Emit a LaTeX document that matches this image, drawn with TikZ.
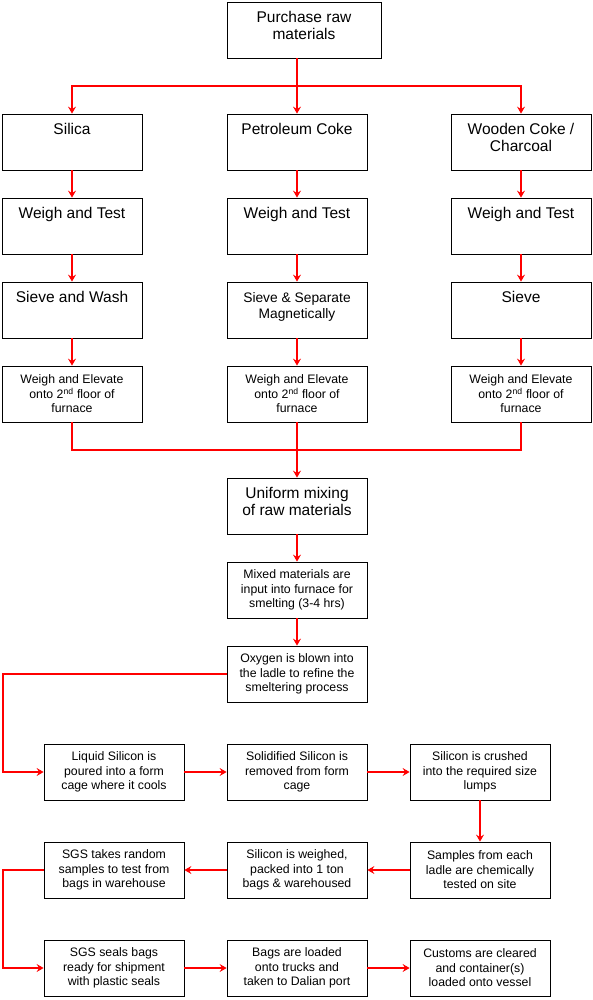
\documentclass[tikz,border=0pt]{standalone}
\usepackage{fontspec}
\setmainfont{Liberation Sans}
\usetikzlibrary{arrows.meta,positioning}

\begin{document}
\begin{tikzpicture}[x=1pt,y=1pt,>={Stealth[length=7pt,width=8pt,inset=2.5pt]},node distance=84pt]
        \tikzstyle{box}=[draw=black,line width=0.8pt,minimum width=140pt,minimum height=56pt,inner sep=0pt,align=center]
        \tikzstyle{bigbox}=[box,text depth=9pt,font=\fontsize{15.5}{17}\selectfont]
        \tikzstyle{smallbox}=[box,font=\fontsize{12.3}{14.5}\selectfont]
        \tikzstyle{flow}=[->,draw=red,line width=1.8pt]
        \useasboundingbox (0,0) rectangle (593,-1000);

        \node[bigbox,minimum width=154pt] (buy) at (304,-30) {Purchase raw\\materials};

        \node[bigbox] (pc) at (297,-142)                       {Petroleum Coke\\~};
        \node[bigbox] (si) [left of=pc,node distance=225pt]    {Silica\\~};
        \node[bigbox] (wc) [right of=pc,node distance=224pt]   {Wooden Coke /\\Charcoal};

        \node[bigbox] (wt1) [below of=si] {Weigh and Test\\~};
        \node[bigbox] (wt2) [below of=pc] {Weigh and Test\\~};
        \node[bigbox] (wt3) [below of=wc] {Weigh and Test\\~};

        \node[bigbox] (sw) [below of=wt1] {Sieve and Wash\\~};
        \node[bigbox,font=\fontsize{13.8}{15.5}\selectfont] (sm) [below of=wt2] {Sieve \& Separate\\Magnetically};
        \node[bigbox] (sv) [below of=wt3] {Sieve\\~};

        \node[smallbox] (we1) [below of=sw] {Weigh and Elevate\\onto 2\textsuperscript{nd} floor of\\furnace};
        \node[smallbox] (we2) [below of=sm] {Weigh and Elevate\\onto 2\textsuperscript{nd} floor of\\furnace};
        \node[smallbox] (we3) [below of=sv] {Weigh and Elevate\\onto 2\textsuperscript{nd} floor of\\furnace};

        \node[bigbox]   (mix)  [below of=we2,node distance=112pt] {Uniform mixing\\of raw materials};
        \node[smallbox] (melt) [below of=mix] {Mixed materials are\\input into furnace for\\smelting (3-4 hrs)};
        \node[smallbox] (oxy)  [below of=melt] {Oxygen is blown into\\the ladle to refine the\\smeltering process};

        \node[smallbox] (mould) [below of=oxy,node distance=98pt]    {Solidified Silicon is\\removed from form\\cage};
        \node[smallbox] (pour)  [left of=mould,node distance=183pt]  {Liquid Silicon is\\poured into a form\\cage where it cools};
        \node[smallbox] (crush) [right of=mould,node distance=183pt] {Silicon is crushed\\into the required size\\lumps};

        \node[smallbox] (bag)  [below of=mould,node distance=98pt] {Silicon is weighed,\\packed into 1 ton\\bags \& warehoused};
        \node[smallbox] (sgs)  [left of=bag,node distance=183pt]   {SGS takes random\\samples to test from\\bags in warehouse};
        \node[smallbox] (test) [right of=bag,node distance=183pt]  {Samples from each\\ladle are chemically\\tested on site};

        \node[smallbox] (truck) [below of=bag,node distance=98pt]   {Bags are loaded\\onto trucks and\\taken to Dalian port};
        \node[smallbox] (seal)  [left of=truck,node distance=183pt] {SGS seals bags\\ready for shipment\\with plastic seals};
        \node[smallbox] (port)  [right of=truck,node distance=183pt] {Customs are cleared\\and container(s)\\loaded onto vessel};

        \coordinate (split) at (297,-86);
        \coordinate (join)  at (297,-450);
        \coordinate (rail)  at (3,0);

        % split into the three raw materials
        \draw[flow,-] (buy.south -| split) -- (split);
        \draw[flow] (split) -| (si);
        \draw[flow] (split) -- (pc);
        \draw[flow] (split) -| (wc);

        \foreach \a/\b in {si/wt1,wt1/sw,sw/we1,pc/wt2,wt2/sm,sm/we2,wc/wt3,wt3/sv,sv/we3,
                           we2/mix,mix/melt,melt/oxy,pour/mould,mould/crush,crush/test,
                           test/bag,bag/sgs,seal/truck,truck/port}
            \draw[flow] (\a) -- (\b);

        % merge back to the mixing step
        \draw[flow,-] (we1) |- (join);
        \draw[flow,-] (we3) |- (join);

        \draw[flow] (oxy.west) -- (oxy.west -| rail) |- (pour.west);
        \draw[flow] (sgs.west) -- (sgs.west -| rail) |- (seal.west);
\end{tikzpicture}
\end{document}
